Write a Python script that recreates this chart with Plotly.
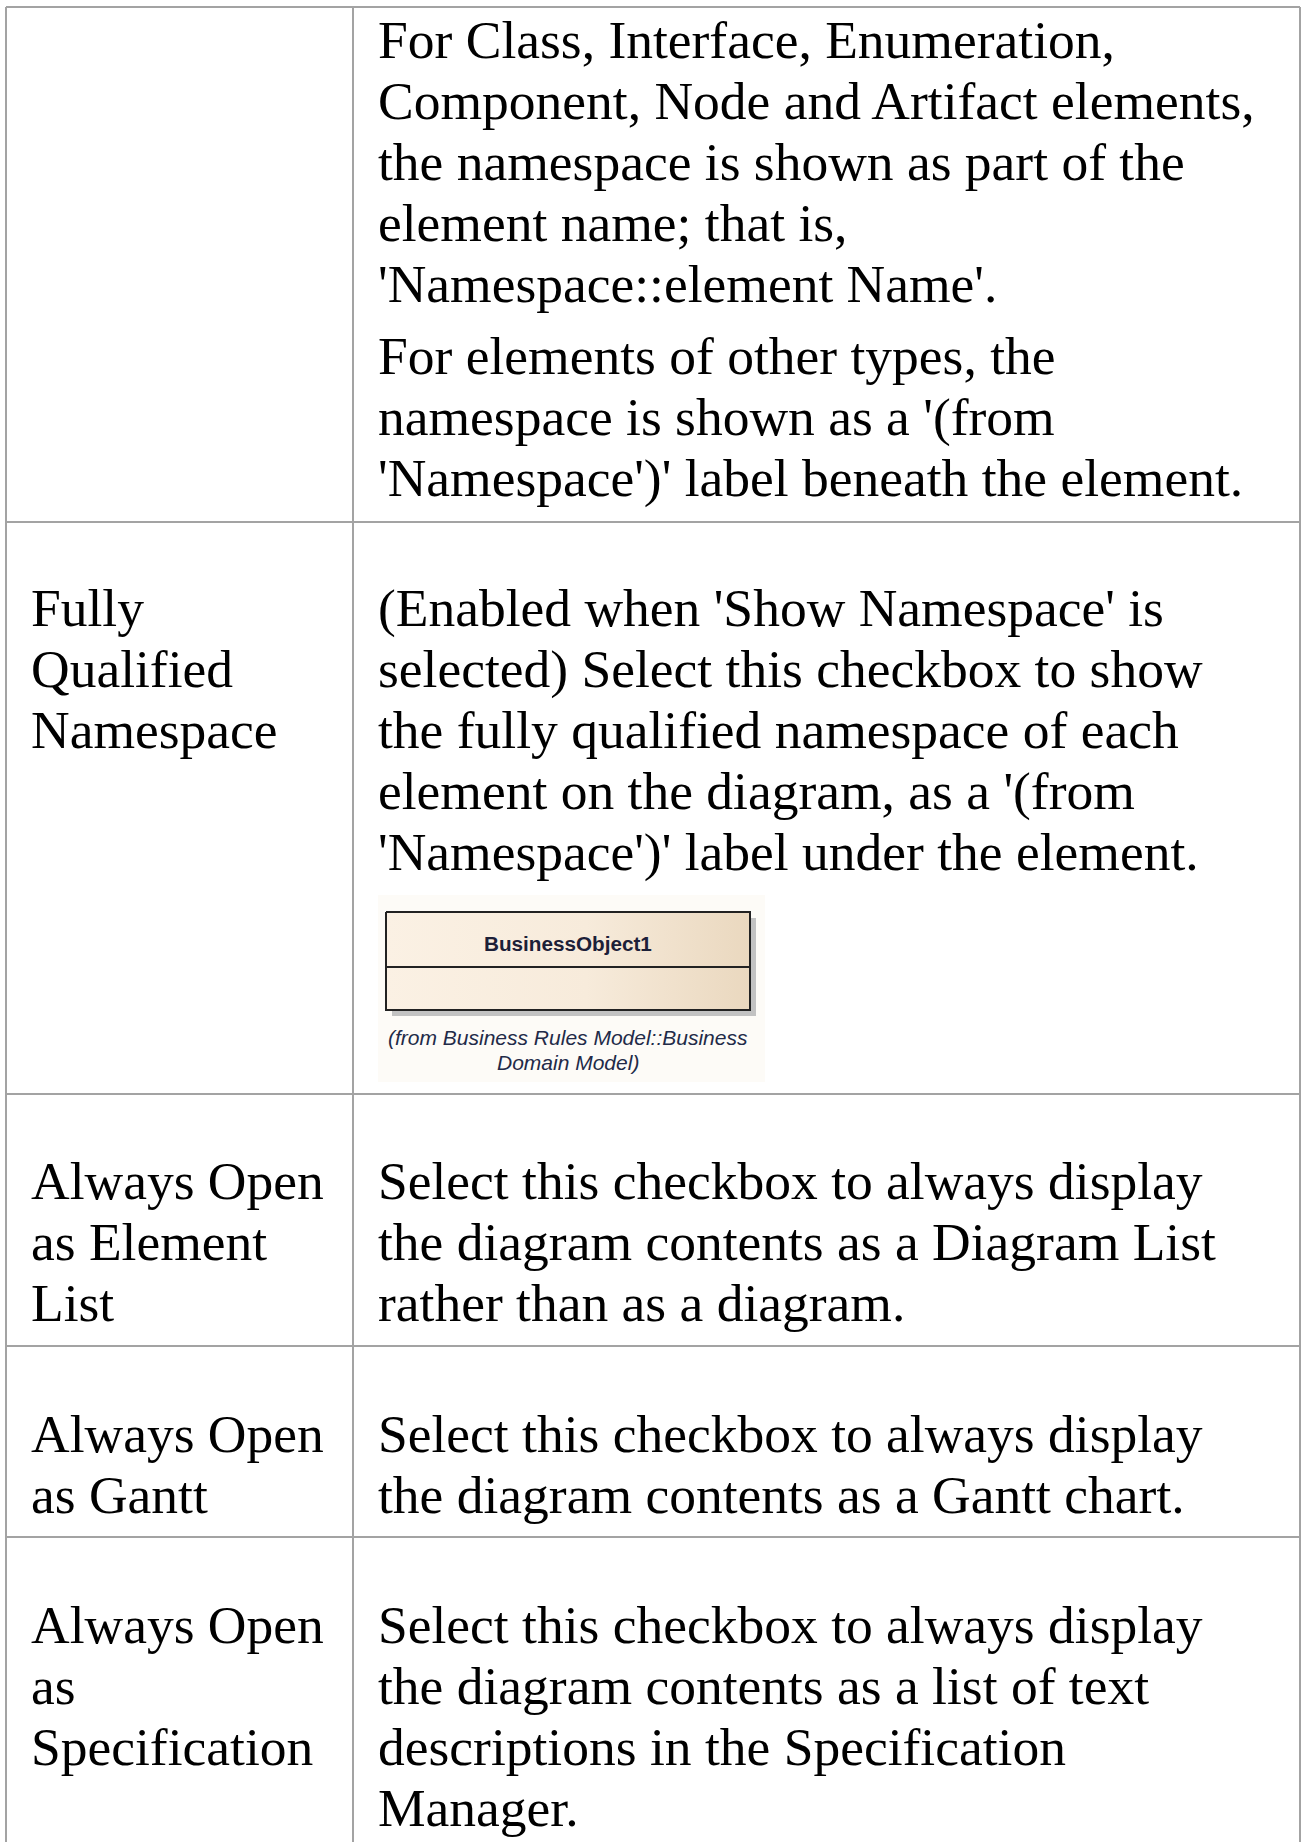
import plotly.graph_objects as go

# ---------------- content ----------------
option_labels = [
    [],
    ["Fully", "Qualified", "Namespace"],
    ["Always Open", "as Element", "List"],
    ["Always Open", "as Gantt"],
    ["Always Open", "as", "Specification"],
]

option_descriptions = [
    [
        ["For Class, Interface, Enumeration,",
         "Component, Node and Artifact elements,",
         "the namespace is shown as part of the",
         "element name; that is,",
         "'Namespace::element Name'."],
        ["For elements of other types, the",
         "namespace is shown as a '(from",
         "'Namespace')' label beneath the element."],
    ],
    [
        ["(Enabled when 'Show Namespace' is",
         "selected) Select this checkbox to show",
         "the fully qualified namespace of each",
         "element on the diagram, as a '(from",
         "'Namespace')' label under the element."],
    ],
    [
        ["Select this checkbox to always display",
         "the diagram contents as a Diagram List",
         "rather than as a diagram."],
    ],
    [
        ["Select this checkbox to always display",
         "the diagram contents as a Gantt chart."],
    ],
    [
        ["Select this checkbox to always display",
         "the diagram contents as a list of text",
         "descriptions in the Specification",
         "Manager."],
    ],
]

example_class_name = "BusinessObject1"
example_namespace_lines = ["(from Business Rules Model::Business", "Domain Model)"]

# ---------------- layout constants ----------------
W, H = 1302, 1842
row_tops = [7, 522, 1094, 1346, 1537]
first_line_offset = [33, 86, 87, 87.5, 88]
col_left, col_div, col_right = 6, 353, 1300
LINE = 61.1
PARA_GAP = 10.6
FONT = "Liberation Serif, Times New Roman, serif"
FSIZE = 53.5
GRID = "#a3a3a3"

fig = go.Figure()

shapes = []
# horizontal rules
for y in row_tops:
    shapes.append(dict(type="line", xref="x", yref="y", x0=col_left, x1=col_right,
                       y0=y, y1=y, line=dict(color=GRID, width=2)))
# vertical rules
for x in (col_left, col_div, col_right):
    shapes.append(dict(type="line", xref="x", yref="y", x0=x, x1=x,
                       y0=row_tops[0], y1=H, line=dict(color=GRID, width=2)))

annotations = []
for r, top in enumerate(row_tops):
    y0 = top + first_line_offset[r]
    for i, txt in enumerate(option_labels[r]):
        annotations.append(dict(x=30, y=y0 + i * LINE, xref="x", yref="y", text=txt,
                                showarrow=False, xanchor="left", yanchor="middle",
                                borderpad=0, font=dict(family=FONT, size=FSIZE, color="#000")))
    y = y0
    for p, para in enumerate(option_descriptions[r]):
        if p > 0:
            y += PARA_GAP
        for txt in para:
            annotations.append(dict(x=377, y=y, xref="x", yref="y", text=txt,
                                    showarrow=False, xanchor="left", yanchor="middle",
                                    borderpad=0, font=dict(family=FONT, size=FSIZE, color="#000")))
            y += LINE

# ---------------- embedded class-diagram picture ----------------
bx0, bx1, by0, bdiv, by1 = 386, 750, 912, 967, 1010
shapes.append(dict(type="rect", xref="x", yref="y", x0=378, x1=765, y0=895, y1=1082,
                   fillcolor="#fdfbf7", line=dict(width=0), layer="below"))
shapes.append(dict(type="rect", xref="x", yref="y", x0=bx0 + 6, x1=bx1 + 6, y0=by0 + 6, y1=by1 + 6,
                   fillcolor="#c2c2c2", line=dict(width=0), layer="below"))
fig.add_trace(go.Scatter(
    x=[bx0, bx1, bx1, bx0, bx0], y=[by0, by0, by1, by1, by0],
    mode="lines", fill="toself",
    fillgradient=dict(type="horizontal",
                      colorscale=[[0, "#fbf1e4"], [0.55, "#f7ebdb"], [1, "#ead8bf"]]),
    line=dict(color="#222222", width=2), hoverinfo="skip", showlegend=False))
shapes.append(dict(type="line", xref="x", yref="y", x0=bx0, x1=bx1, y0=bdiv, y1=bdiv,
                   line=dict(color="#222222", width=2)))

annotations.append(dict(x=(bx0 + bx1) / 2, y=943, xref="x", yref="y",
                        text="<b>" + example_class_name + "</b>", showarrow=False,
                        xanchor="center", yanchor="middle", borderpad=0,
                        font=dict(family="Liberation Sans, Arial, sans-serif", size=20.7, color="#1c2038")))
for i, txt in enumerate(example_namespace_lines):
    annotations.append(dict(x=568, y=1037 + i * 25, xref="x", yref="y",
                            text="<i>" + txt + "</i>", showarrow=False,
                            xanchor="center", yanchor="middle", borderpad=0,
                            font=dict(family="Liberation Sans, Arial, sans-serif", size=21, color="#222a48")))

fig.update_layout(
    width=W, height=H, margin=dict(l=0, r=0, t=0, b=0),
    paper_bgcolor="white", plot_bgcolor="white",
    xaxis=dict(range=[0, W], visible=False, fixedrange=True),
    yaxis=dict(range=[H, 0], visible=False, fixedrange=True),
    shapes=shapes, annotations=annotations, showlegend=False,
)

fig.write_html("out.html", config={"displayModeBar": False},
               post_script="document.body.style.margin='0';")
